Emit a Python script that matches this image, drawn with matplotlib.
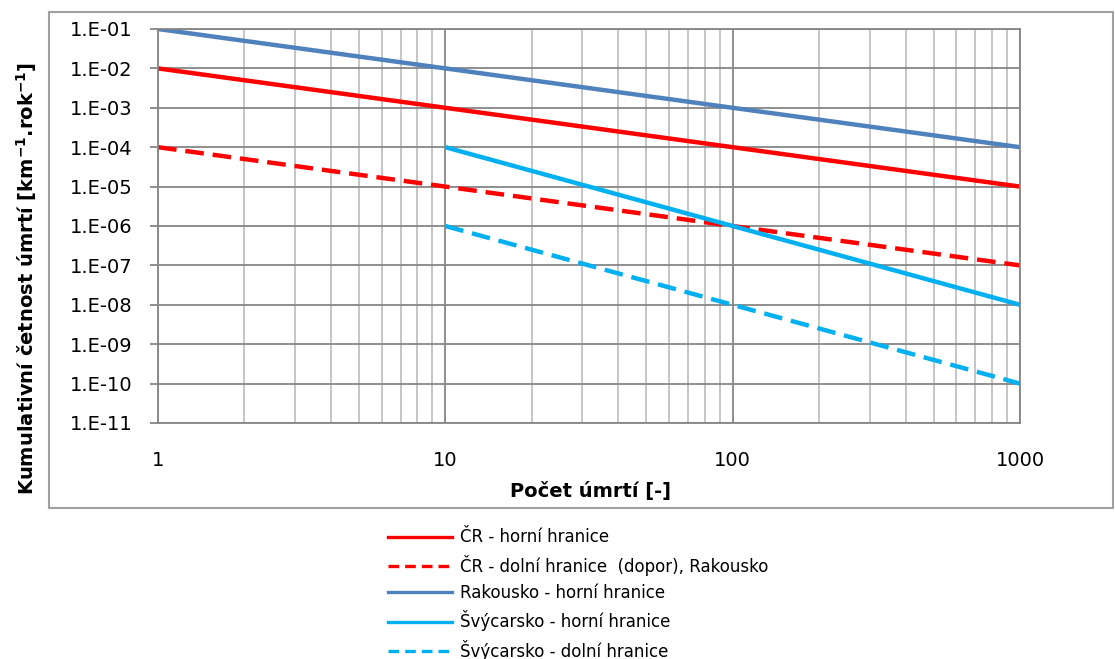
import matplotlib
matplotlib.use("Agg")
import matplotlib.pyplot as plt
from matplotlib.patches import Rectangle
from matplotlib.ticker import FixedLocator, FuncFormatter, LogLocator, NullFormatter
import numpy as np

plt.rcParams['font.family'] = ['DejaVu Sans']
plt.rcParams['mathtext.fontset'] = 'dejavusans'

# data
x_cr = [1, 10, 100, 1000]
cr_horni = [1e-2, 1e-3, 1e-4, 1e-5]
cr_dolni = [1e-4, 1e-5, 1e-6, 1e-7]
x_at = [1, 10, 100, 1000]
at_horni = [1e-1, 1e-2, 1e-3, 1e-4]
x_ch = [10, 100, 1000]
ch_horni = [1e-4, 1e-6, 1e-8]
ch_dolni = [1e-6, 1e-8, 1e-10]

labels = ["ČR - horní hranice",
          "ČR - dolní hranice  (dopor), Rakousko",
          "Rakousko - horní hranice",
          "Švýcarsko - horní hranice",
          "Švýcarsko - dolní hranice"]

red = "#FF0000"
blue = "#4F81BD"
lblue = "#00B0F0"
major_c = "#868686"
minor_c = "#C0C0C0"

W, H = 1115, 659
fig = plt.figure(figsize=(W / 100, H / 100), dpi=100)
ax = fig.add_axes([158 / W, 1 - 423 / H, (1020 - 158) / W, (423 - 29) / H])

lw = 3.2
ax.plot(x_cr, cr_horni, color=red, lw=lw, solid_capstyle='butt')
ax.plot(x_cr, cr_dolni, color=red, lw=lw, dashes=(4.2, 2.0))
ax.plot(x_at, at_horni, color=blue, lw=lw, solid_capstyle='butt')
ax.plot(x_ch, ch_horni, color=lblue, lw=lw, solid_capstyle='butt')
ax.plot(x_ch, ch_dolni, color=lblue, lw=lw, dashes=(4.2, 2.0))

ax.set_xscale('log')
ax.set_yscale('log')
ax.set_xlim(1, 1000)
ax.set_ylim(1e-11, 1e-1)

ax.xaxis.set_major_locator(FixedLocator([1, 10, 100, 1000]))
ax.xaxis.set_minor_locator(LogLocator(base=10, subs=np.arange(2, 10)))
ax.xaxis.set_major_formatter(FuncFormatter(lambda v, p: "%d" % round(v)))
ax.xaxis.set_minor_formatter(NullFormatter())
ax.yaxis.set_major_locator(FixedLocator([10.0 ** e for e in range(-11, 0)]))
ax.yaxis.set_minor_locator(FixedLocator([]))
ax.yaxis.set_major_formatter(FuncFormatter(
    lambda v, p: "1.E-%02d" % abs(int(round(np.log10(v))))))

ax.grid(True, which='major', color=major_c, lw=1.3)
ax.grid(True, which='minor', axis='x', color=minor_c, lw=1.3)
ax.set_axisbelow(True)
for s in ax.spines.values():
    s.set_color(major_c)
    s.set_linewidth(1.3)

ax.tick_params(axis='x', which='both', length=0, pad=20, labelsize=14)
ax.tick_params(axis='y', which='major', length=5.5, width=1.3, color=major_c,
               pad=12.5, labelsize=14)

fig.text((508 + 672) / 2 / W, 1 - 492 / H, "Počet úmrtí [-]", ha='center',
         va='center', fontsize=14, fontweight='bold')
fig.text(27 / W, 1 - 278 / H,
         r"Kumulativní četnost úmrtí [km$^{\mathbf{-1}}$.rok$^{\mathbf{-1}}$]",
         rotation=90, ha='center', va='center', fontsize=14, fontweight='bold')

# outer chart border
fig.patches.append(Rectangle((49 / W, 1 - 508 / H), (1113 - 49) / W, (508 - 12) / H,
                             transform=fig.transFigure, fill=False,
                             edgecolor="#A0A0A0", lw=1.5))

handles = [
    plt.Line2D([], [], color=red, lw=2.4),
    plt.Line2D([], [], color=red, lw=2.4, dashes=(3.2, 1.8)),
    plt.Line2D([], [], color=blue, lw=2.4),
    plt.Line2D([], [], color=lblue, lw=2.4),
    plt.Line2D([], [], color=lblue, lw=2.4, dashes=(3.2, 1.8)),
]
fig.legend(handles, labels, loc='upper left', bbox_to_anchor=(380 / W, 1 - 520 / H),
           frameon=False, fontsize=12, handlelength=3.8, handletextpad=0.5,
           labelspacing=0.5, borderpad=0)

fig.savefig("out.png", dpi=100)
